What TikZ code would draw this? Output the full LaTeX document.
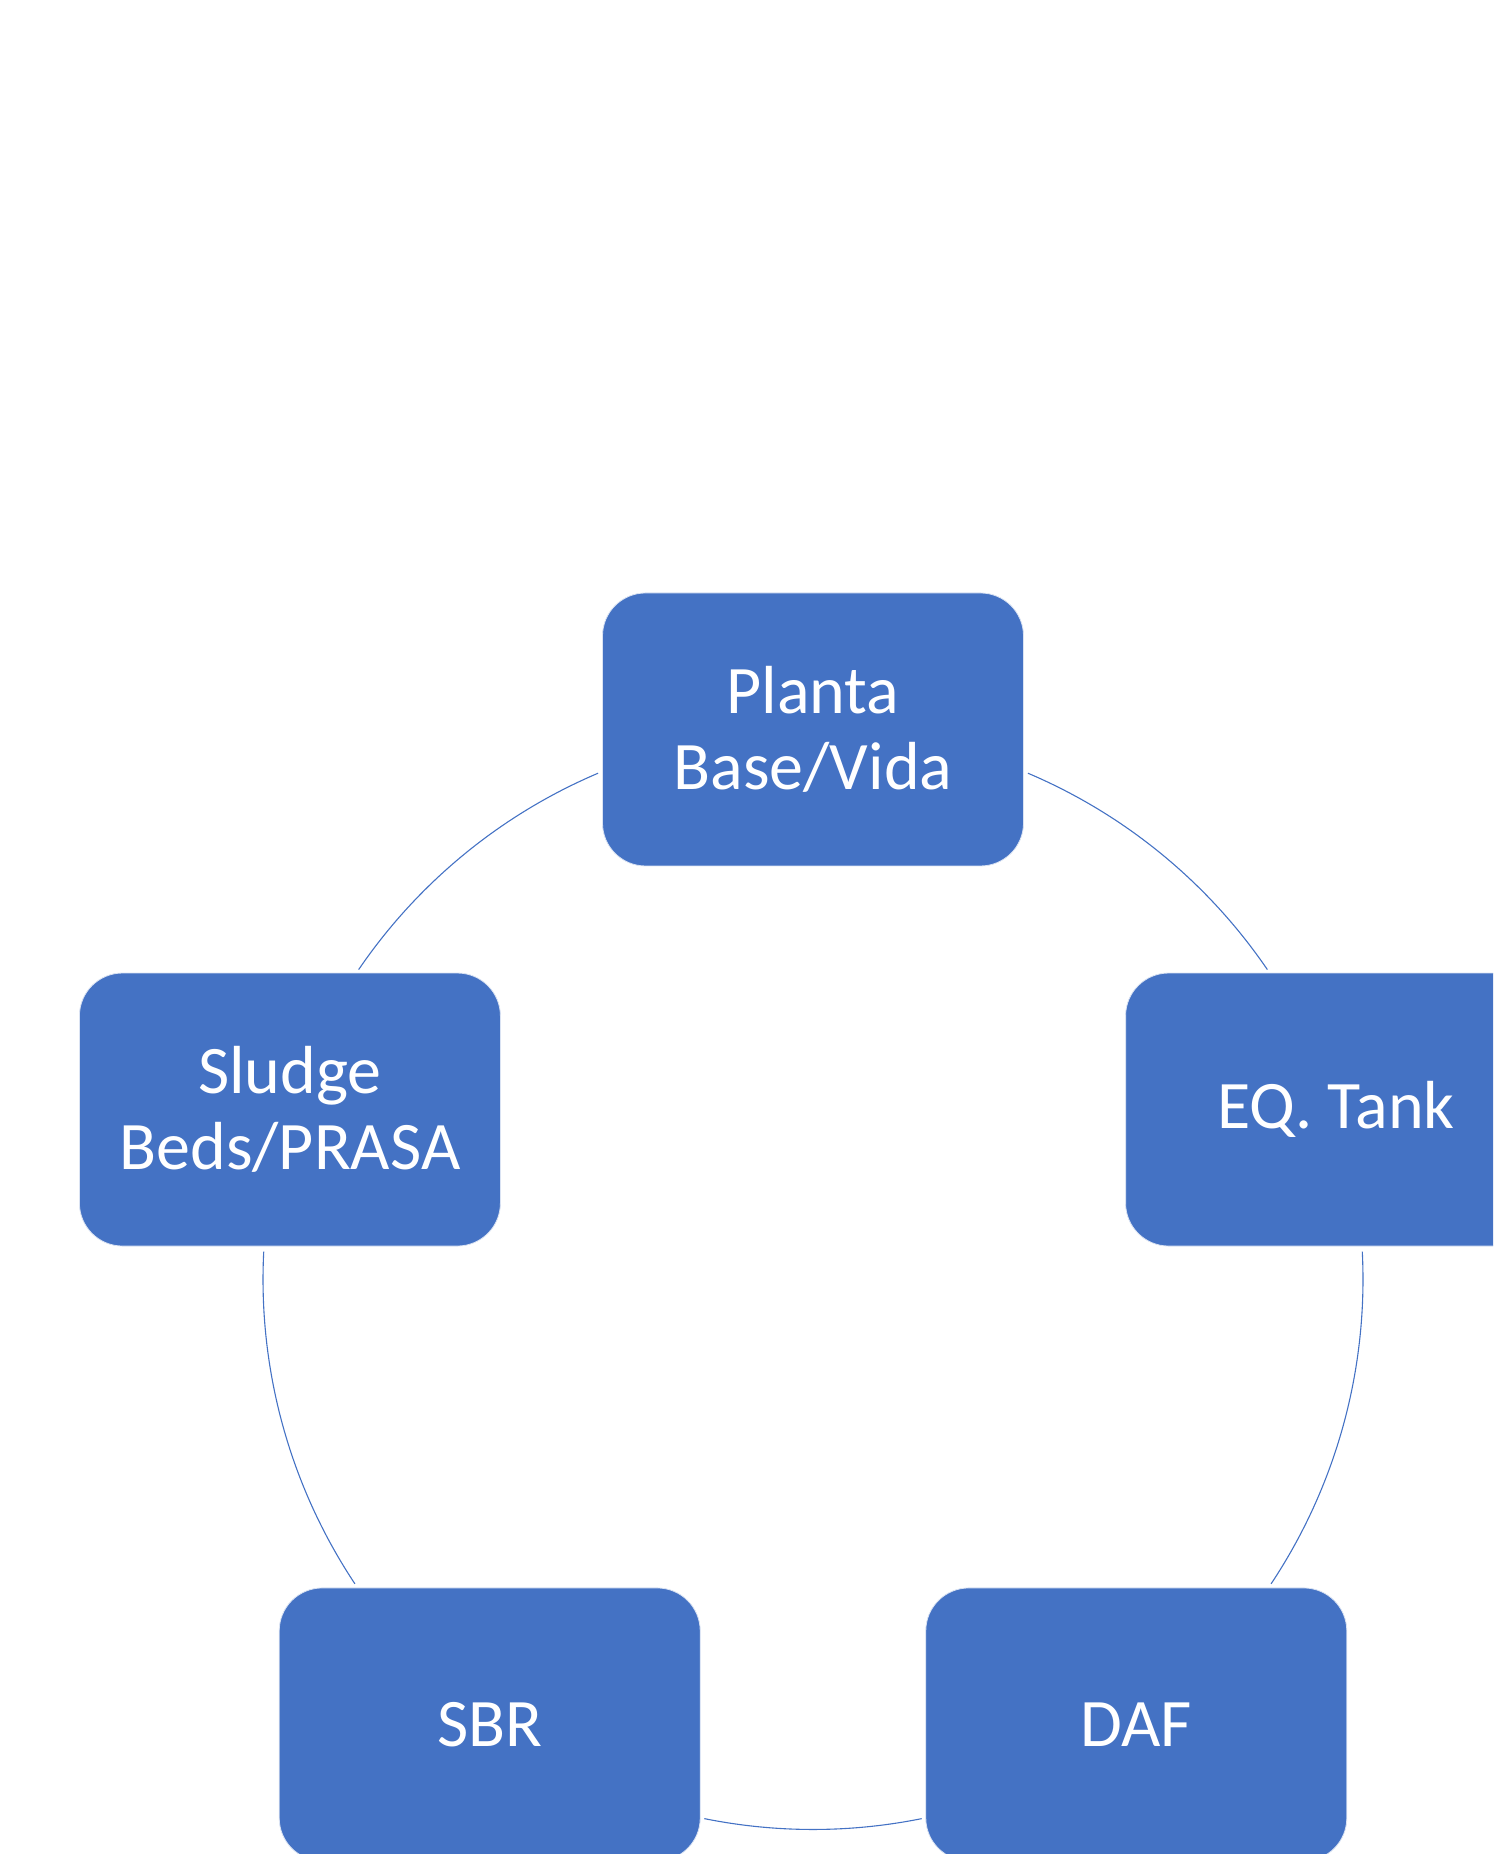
\documentclass[tikz,border=0pt]{standalone}
\usepackage{fontspec}
\setmainfont{Carlito}
\definecolor{stageblue}{RGB}{68, 114, 196}
\usetikzlibrary{calc}

\begin{document}
\begin{tikzpicture}[x=1pt, y=1pt,
    stage/.style={rectangle, rounded corners=43pt, fill=stageblue, draw=white!80!stageblue,
        line width=0.8pt, minimum width=421pt, minimum height=273pt, inner sep=0pt,
        text=white, align=center, font=\fontsize{68}{76}\selectfont},
    link/.style={draw=stageblue, line width=1.1pt}]
    \useasboundingbox (0,0) rectangle (1493,1854);
    \clip (0,0) rectangle (1493,1854);

    % Centre of the cycle
    \coordinate (ctr) at (813,574.5);

    % Cycle links
    \coordinate (l1) at ($(ctr)+(67:550)$);
    \draw[link] (l1) arc[start angle=67, end angle=34.3, radius=550];
    \coordinate (l2) at ($(ctr)+(2.9:550)$);
    \draw[link] (l2) arc[start angle=2.9, end angle=-33.6, radius=550];
    \coordinate (l3) at ($(ctr)+(-78.6:550)$);
    \draw[link] (l3) arc[start angle=-78.6, end angle=-101.4, radius=550];
    \coordinate (l4) at ($(ctr)+(-146.4:550)$);
    \draw[link] (l4) arc[start angle=-146.4, end angle=-182.9, radius=550];
    \coordinate (l5) at ($(ctr)+(145.7:550)$);
    \draw[link] (l5) arc[start angle=145.7, end angle=113, radius=550];

    % Stages
    \node[stage] (planta) at ($(ctr)+(90:550)$) {Planta\\Base/Vida};
    \node[stage] (eqtank) at ($(ctr)+(18:550)$) {EQ. Tank};
    \node[stage] (daf) at ($(ctr)+(-54:550)$) {DAF};
    \node[stage] (sbr) at ($(ctr)+(-126:550)$) {SBR};
    \node[stage] (sludge) at ($(ctr)+(162:550)$) {Sludge\\Beds/PRASA};
\end{tikzpicture}
\end{document}
